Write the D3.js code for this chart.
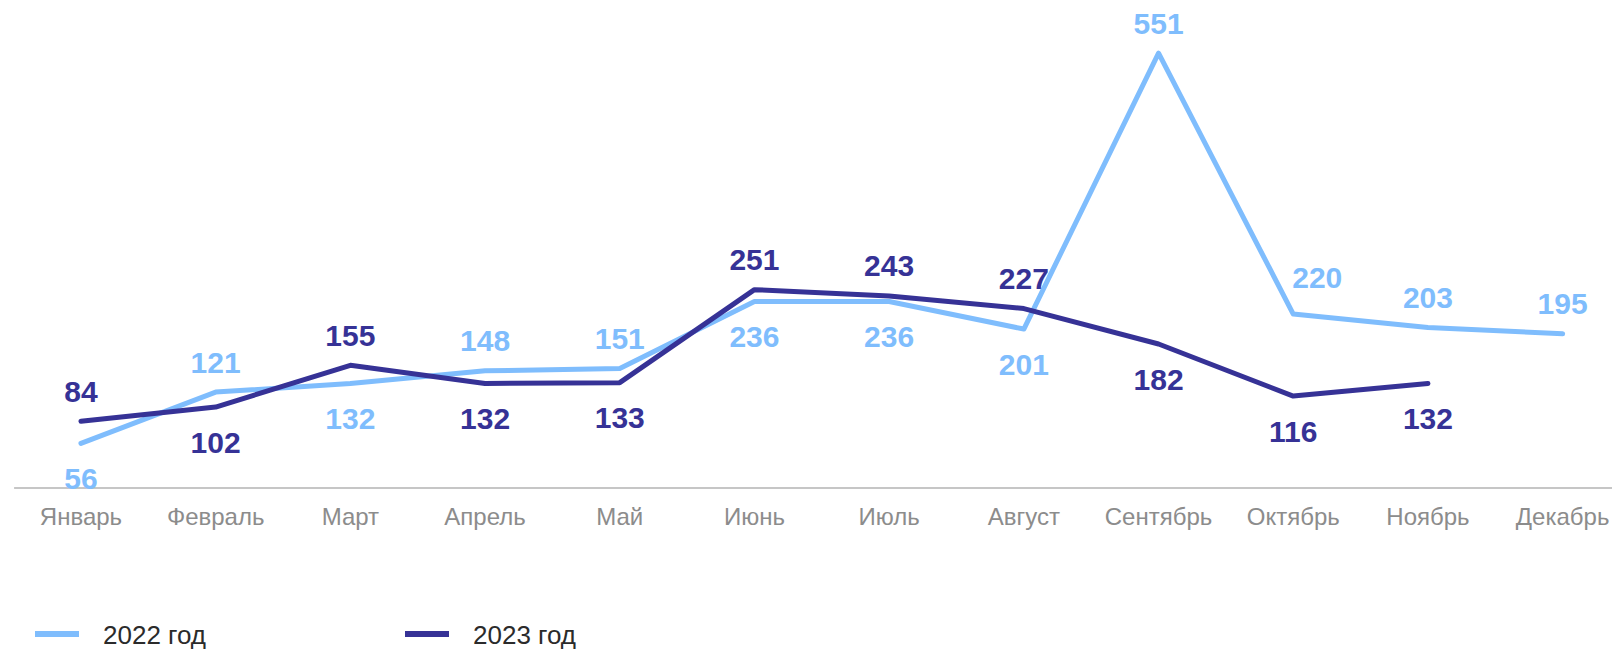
<!DOCTYPE html>
<html lang="ru">
<head>
  <meta charset="UTF-8" />
  <title>2022 / 2023</title>
  <script src="https://d3js.org/d3.v7.min.js"></script>
  <style>
    body {
      margin: 0;
      background: #fff;
      font-family: "Liberation Sans", Arial, sans-serif;
    }

    .axis .domain {
      stroke: #c6c6c6;
      stroke-width: 2;
    }

    .axis text {
      fill: #8c8c8c;
      font-size: 24px;
    }

    .value {
      font-weight: bold;
      font-size: 30px;
    }

    .legend text {
      fill: #2b2b2b;
      font-size: 26px;
    }
  </style>
</head>
<body>

<svg id="chart" width="1612" height="651"></svg>

<script>
/* ---------------- DATA ---------------- */

const months = ["Январь", "Февраль", "Март", "Апрель", "Май", "Июнь",
                "Июль", "Август", "Сентябрь", "Октябрь", "Ноябрь", "Декабрь"];

const values2022 = [56, 121, 132, 148, 151, 236, 236, 201, 551, 220, 203, 195];
const values2023 = [84, 102, 155, 132, 133, 251, 243, 227, 182, 116, 132];

// where each value label sits relative to its point
const side2022 = ["bottom", "top", "bottom", "top", "top", "bottom",
                  "bottom", "bottom", "top", "top-right", "top", "top"];
const side2023 = ["top", "bottom", "top", "bottom", "bottom", "top",
                  "top", "top", "bottom", "bottom", "bottom"];

const seriesNames = ["2022 год", "2023 год"];
const colors = ["#7fbdfd", "#363296"];

/* ---------------- SETUP ---------------- */

const svg = d3.select("#chart");

const x = d3.scaleBand()
  .domain(months)
  .range([13.6, 1630])
  .padding(0);

const y = d3.scaleLinear()
  .domain([0, 600])
  .range([487.5, 14.5]);

const cx = m => x(m) + x.bandwidth() / 2;

/* ---------------- AXIS ---------------- */

const axis = svg.append("g")
  .attr("class", "axis")
  .attr("transform", `translate(0,${y(0)})`)
  .call(d3.axisBottom(x).tickSize(0).tickSizeOuter(0).tickPadding(20));

axis.selectAll(".tick line").remove();

/* ---------------- LINES ---------------- */

const series = [
  { name: seriesNames[0], values: values2022, side: side2022, color: colors[0] },
  { name: seriesNames[1], values: values2023, side: side2023, color: colors[1] }
];

const line = d3.line()
  .x((d, i) => cx(months[i]))
  .y(d => y(d));

svg.selectAll(".series")
  .data(series)
  .enter()
  .append("path")
  .attr("class", "series")
  .attr("d", d => line(d.values))
  .attr("fill", "none")
  .attr("stroke", d => d.color)
  .attr("stroke-width", 5)
  .attr("stroke-linejoin", "round")
  .attr("stroke-linecap", "round");

/* ---------------- LABELS ---------------- */

const labelDx = { "top": 0, "bottom": 0, "top-right": 24 };
const labelDy = { "top": -30, "bottom": 35, "top-right": -37 };

series.forEach(s => {
  svg.append("g")
    .selectAll("text")
    .data(s.values)
    .enter()
    .append("text")
    .attr("class", "value")
    .attr("fill", s.color)
    .attr("text-anchor", "middle")
    .attr("dominant-baseline", "central")
    .attr("x", (d, i) => cx(months[i]) + labelDx[s.side[i]])
    .attr("y", (d, i) => y(d) + labelDy[s.side[i]])
    .text(d => d);
});

/* ---------------- LEGEND ---------------- */

const legend = svg.append("g")
  .attr("class", "legend")
  .selectAll("g")
  .data(series)
  .enter()
  .append("g")
  .attr("transform", (d, i) => `translate(${35 + i * 370},634)`);

legend.append("rect")
  .attr("x", 0)
  .attr("y", -3)
  .attr("width", 44)
  .attr("height", 6)
  .attr("fill", d => d.color);

legend.append("text")
  .attr("x", 68)
  .attr("y", 10)
  .text(d => d.name);
</script>

</body>
</html>
